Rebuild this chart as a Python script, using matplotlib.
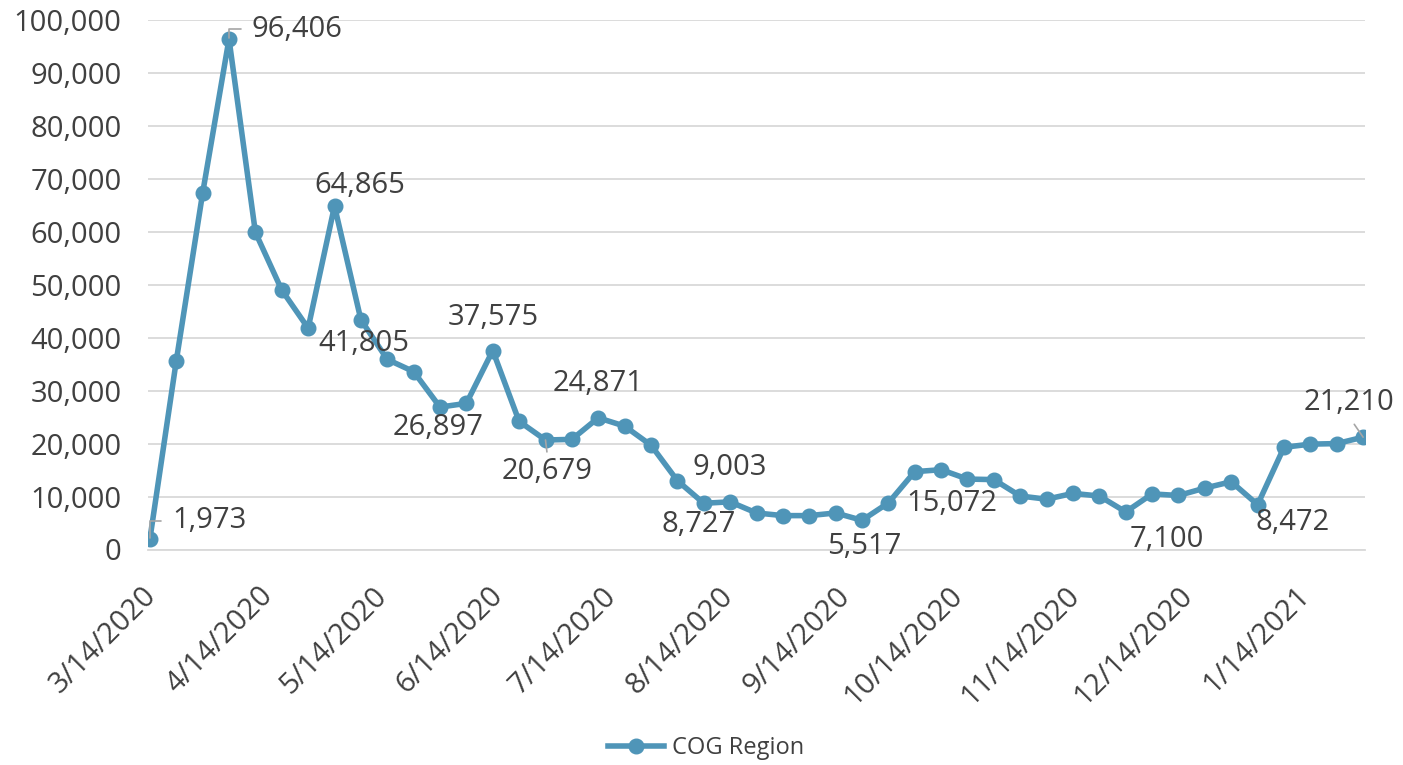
import matplotlib
matplotlib.use("Agg")
import matplotlib.pyplot as plt
import matplotlib.transforms as mtransforms
import pandas as pd

# weekly counts, COG region
week_start = "2020-03-14"
values = [1973, 35600, 67300, 96406, 59900, 49000, 41805, 64865, 43400, 35900,
          33600, 26897, 27600, 37575, 24200, 20679, 20800, 24871, 23300, 19700,
          13000, 8727, 9003, 6900, 6400, 6400, 6900, 5517, 8800, 14700,
          15072, 13300, 13200, 10100, 9500, 10600, 10100, 7100, 10500, 10200,
          11600, 12800, 8472, 19300, 19900, 20000, 21210]
tick_dates = ["2020-03-14", "2020-04-14", "2020-05-14", "2020-06-14", "2020-07-14",
              "2020-08-14", "2020-09-14", "2020-10-14", "2020-11-14", "2020-12-14",
              "2021-01-14"]
tick_labels = ["3/14/2020", "4/14/2020", "5/14/2020", "6/14/2020", "7/14/2020",
               "8/14/2020", "9/14/2020", "10/14/2020", "11/14/2020", "12/14/2020",
               "1/14/2021"]
series_name = "COG Region"

# which points get a value label: index -> (dx, dy) offset in points, leader style
labelled = {0: (43, 13, "elbow"), 3: (49, 7, "elbow"), 7: (18, 15, None),
            6: (40, -11, None), 13: (0, 24, None), 11: (-1, -15, None),
            15: (1.5, -23, "straight"), 17: (0, 25, None), 22: (0, 25, None),
            21: (-4, -15, None), 27: (1.5, -19, None), 30: (8, -24, None),
            37: (29.5, -20, None), 42: (25, -13, None), 46: (-10, 25, "straight_up")}

dates = pd.date_range(week_start, periods=len(values), freq="7D")

plt.rcParams['font.family'] = ['Open Sans', 'DejaVu Sans']
txt = "#404040"
blue = "#4F95B8"

fig = plt.figure(figsize=(14.03, 7.65), dpi=100)
ax = fig.add_axes([148 / 1403, 1 - 549.5 / 765, (1365 - 148) / 1403, (549.5 - 20) / 765])

ax.plot(dates, values, color=blue, lw=4, marker="o", markersize=10.5,
        solid_joinstyle="round", label=series_name, zorder=3)

ax.set_ylim(0, 100000)
ax.set_yticks(range(0, 100001, 10000))
ax.set_yticklabels([f"{v:,}" for v in range(0, 100001, 10000)])
ax.set_xlim(dates[0] - pd.Timedelta(hours=12), dates[-1] + pd.Timedelta(hours=12))
ax.set_xticks(pd.to_datetime(tick_dates))
ax.set_xticklabels(tick_labels, rotation=45, ha="right", va="top", rotation_mode="anchor")

ax.grid(axis="y", color="#D9D9D9", lw=1.3)
ax.set_axisbelow(True)
for s in ["top", "right", "left"]:
    ax.spines[s].set_visible(False)
ax.spines["bottom"].set_color("#D9D9D9")
ax.spines["bottom"].set_linewidth(1.3)
ax.tick_params(axis="y", length=0, pad=19, labelsize=21, labelcolor=txt)
ax.tick_params(axis="x", length=0, pad=23, labelsize=21, labelcolor=txt)

# nudge the date labels a little to the left (after tick_params, which resets transforms)
shift = mtransforms.ScaledTranslation(-8 / 100, 0, fig.dpi_scale_trans)
for lbl in ax.get_xticklabels():
    lbl.set_transform(lbl.get_transform() + shift)

for i, (dx, dy, leader) in labelled.items():
    kw = dict(textcoords="offset points", ha="center", va="center",
              fontsize=21, color=txt)
    if leader == "elbow":
        kw["arrowprops"] = dict(arrowstyle="-", color="#A6A6A6", lw=1.2,
                                connectionstyle="angle,angleA=0,angleB=90,rad=0",
                                relpos=(0, 0.5), shrinkA=6, shrinkB=1)
    elif leader == "straight":
        kw["arrowprops"] = dict(arrowstyle="-", color="#A6A6A6", lw=1.2,
                                relpos=(0.5, 1), shrinkA=2, shrinkB=0)
    elif leader == "straight_up":
        kw["arrowprops"] = dict(arrowstyle="-", color="#A6A6A6", lw=1.2,
                                relpos=(0.5, 0), shrinkA=4, shrinkB=0)
    ax.annotate(f"{values[i]:,}", xy=(dates[i], values[i]), xytext=(dx, dy), **kw)

fig.legend(loc="center", bbox_to_anchor=(0.503, 1 - 748 / 765), frameon=False,
           fontsize=17, labelcolor=txt, handlelength=2.4, handletextpad=0.3)

fig.savefig("out.png", dpi=100)
